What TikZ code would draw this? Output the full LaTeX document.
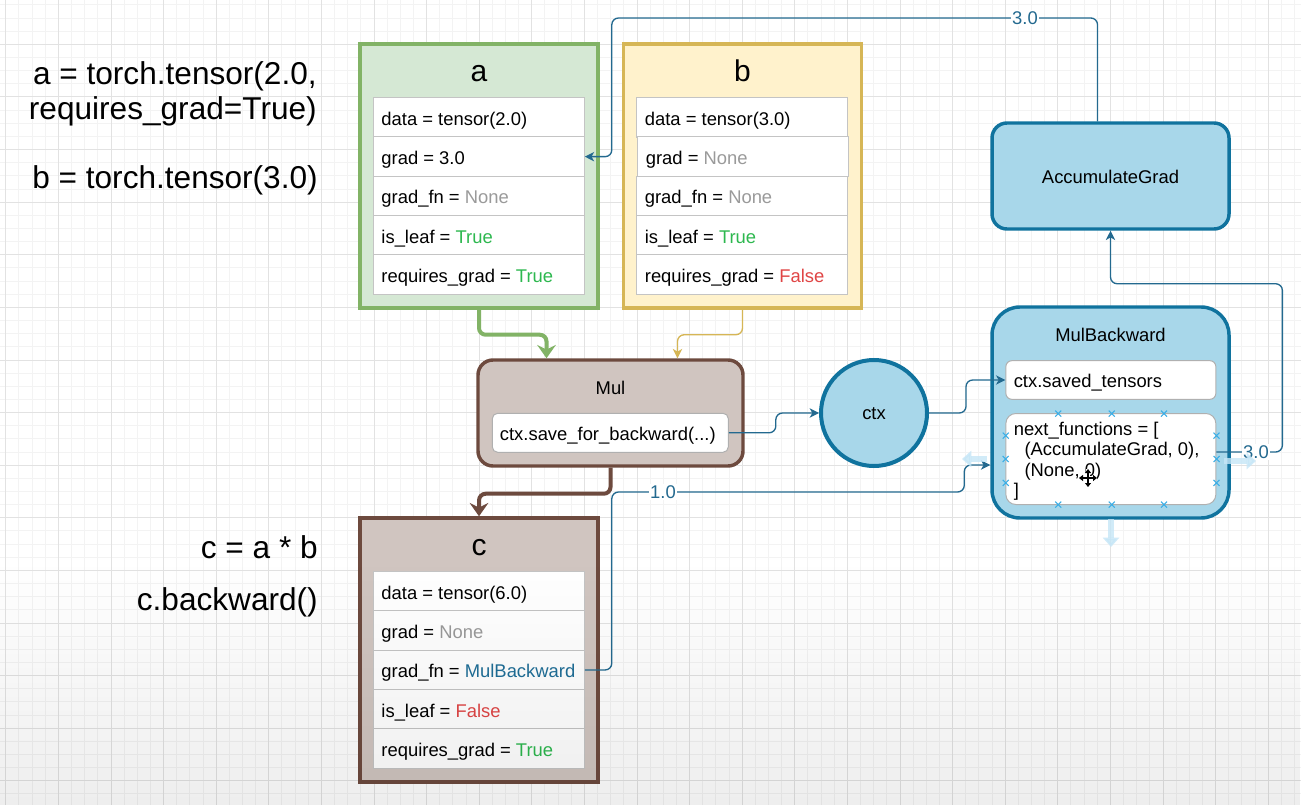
\documentclass[tikz,border=0pt]{standalone}
\usepackage{fontspec}
\setmainfont{Liberation Sans}
\usetikzlibrary{arrows.meta,calc,fadings}

\definecolor{gridminor}{HTML}{F3F3F3}
\definecolor{gridmajor}{HTML}{E2E2E2}
\definecolor{gfill}{HTML}{D5E8D4}
\definecolor{gline}{HTML}{82B366}
\definecolor{yfill}{HTML}{FFF2CC}
\definecolor{yline}{HTML}{D6B656}
\definecolor{bfill}{HTML}{D0C5C0}
\definecolor{bline}{HTML}{6D4A3E}
\definecolor{cfill}{HTML}{A8D7EA}
\definecolor{cline}{HTML}{10739E}
\definecolor{edgeblue}{HTML}{23698F}
\definecolor{rowline}{HTML}{C4C4C4}
\definecolor{txtgreen}{HTML}{2DB84F}
\definecolor{txtred}{HTML}{E04545}
\definecolor{txtgray}{HTML}{9A9A9A}
\definecolor{txtblue}{HTML}{1F6E97}
\definecolor{hover}{HTML}{C6E6F7}
\definecolor{marker}{HTML}{3AAEE6}

\newcommand\gnone[1]{\textcolor{txtgray}{#1}}
\newcommand\gtrue[1]{\textcolor{txtgreen}{#1}}
\newcommand\rfalse[1]{\textcolor{txtred}{#1}}

\tikzset{
  lbl/.style={font=\fontsize{13.8pt}{16pt}\selectfont},
  varbox/.style={rectangle, draw, line width=2.6pt, minimum width=178.5pt, minimum height=198pt, inner sep=0pt},
  rowbox/.style={rectangle, draw=rowline, fill=white, line width=0.75pt, minimum width=158.25pt, minimum height=29.5pt, inner sep=0pt},
  boxtitle/.style={font=\fontsize{22.5pt}{26pt}\selectfont, inner sep=0pt, anchor=base},
  code/.style={font=\fontsize{23.7pt}{26.25pt}\selectfont, anchor=base east, inner sep=0pt},
  opbox/.style={rectangle, rounded corners=11.25pt, line width=2.6pt, inner sep=0pt},
  inbox/.style={rectangle, rounded corners=4pt, draw=rowline!90!black, fill=white, line width=0.75pt, inner sep=0pt},
  txt/.style={lbl, inner sep=0pt, anchor=base},
  gedge/.style={draw=gline, line width=3pt, rounded corners=5pt, -{Stealth[length=10pt,width=14pt,inset=3.5pt]}},
  bredge/.style={draw=bline, line width=3pt, rounded corners=5pt, -{Stealth[length=10pt,width=14pt,inset=3.5pt]}},
  yedge/.style={draw=yline, line width=1pt, rounded corners=5pt, -{Stealth[length=7pt,width=7pt,inset=2pt]}},
  bedge/.style={draw=edgeblue, line width=1pt, rounded corners=5pt, -{Stealth[length=7pt,width=7pt,inset=2pt]}},
  elabel/.style={fill=white, text=edgeblue, inner sep=1pt, lbl},
  hoverarrow/.style={draw=hover, line width=4.5pt, -{Triangle[length=7pt,width=12pt]}, opacity=0.8},
}

\newcommand\selmark[2]{\draw[marker, line width=0.8pt] ($(#1,#2)+(-3,-3)$) -- ($(#1,#2)+(3,3)$) ($(#1,#2)+(-3,3)$) -- ($(#1,#2)+(3,-3)$);}
\newcommand\vrow[4]{\node[rowbox] (#1) at (#2,#3) {};
  \node[txt, anchor=base west] (#1t) at ($(#1.west)+(8.4,7.8)$) {#4};}

\begin{document}
\begin{tikzpicture}[x=0.75pt, y=-0.75pt]
\useasboundingbox (0,0) rectangle (1301,805);
\fill[white] (0,0) rectangle (1301,805);

% grid
\foreach \i in {0,...,98} \draw[gridminor, line width=0.6pt] ({5.7+13.15*\i},0) -- ({5.7+13.15*\i},805);
\foreach \j in {0,...,61} \draw[gridminor, line width=0.6pt] (0,{4.85+13.15*\j}) -- (1301,{4.85+13.15*\j});
\foreach \i in {0,...,24} \draw[gridmajor, line width=0.6pt] ({5.7+52.6*\i},0) -- ({5.7+52.6*\i},805);
\foreach \j in {0,...,15} \draw[gridmajor, line width=0.6pt] (0,{-8.3+52.6*\j}) -- (1301,{-8.3+52.6*\j});

% code on the left
\node[code] (codea) at (317,85) {a = torch.tensor(2.0,};
\node[code] (codea2) at (317,120) {requires\_grad=True)};
\node[code] (codeb) at (318,189) {b = torch.tensor(3.0)};
\node[code] (codec) at (318,558.5) {c = a * b};
\node[code] (coded) at (318,610.5) {c.backward()};

% variable a
\node[varbox, draw=gline, fill=gfill] (a) at (479,176) {};
\node[boxtitle] (ta) at (479,81.7) {a};
\vrow{a1}{478.8}{117.35}{data = tensor(2.0)}
\vrow{agrad}{478.8}{156.65}{grad = 3.0}
\vrow{a3}{478.8}{195.95}{grad\_fn = \gnone{None}}
\vrow{a4}{478.8}{235.25}{is\_leaf = \gtrue{True}}
\vrow{a5}{478.8}{274.55}{requires\_grad = \gtrue{True}}

% variable b
\node[varbox, draw=yline, fill=yfill] (b) at (742.5,176) {};
\node[boxtitle] (tb) at (742.5,81.7) {b};
\vrow{b1}{742.2}{117.35}{data = tensor(3.0)}
\vrow{b2}{743.2}{156.65}{grad = \gnone{None}}
\vrow{b3}{742.2}{195.95}{grad\_fn = \gnone{None}}
\vrow{b4}{742.2}{235.25}{is\_leaf = \gtrue{True}}
\vrow{b5}{742.2}{274.55}{requires\_grad = \rfalse{False}}

% variable c
\node[varbox, draw=bline, fill=bfill] (c) at (479,650) {};
\node[boxtitle] (tc) at (479,555) {c};
\vrow{c1}{478.8}{591.35}{data = tensor(6.0)}
\vrow{c2}{478.8}{630.65}{grad = \gnone{None}}
\vrow{cfn}{478.8}{669.95}{grad\_fn = \textcolor{txtblue}{MulBackward}}
\vrow{c4}{478.8}{709.25}{is\_leaf = \rfalse{False}}
\vrow{c5}{478.8}{748.55}{requires\_grad = \gtrue{True}}

% Mul
\node[opbox, draw=bline, fill=bfill, minimum width=198.75pt, minimum height=79.5pt] (mul) at (610.5,413) {};
\node[txt] (tmul) at (610.5,394.3) {Mul};
\node[inbox, minimum width=177pt, minimum height=29.25pt] (save) at (610.3,432.8) {};
\node[txt] (tsave) at (607.8,440) {ctx.save\_for\_backward(...)};

% ctx
\node[circle, draw=cline, fill=cfill, line width=3pt, minimum size=79.5pt, inner sep=0pt] (ctx) at (874,413) {};
\node[txt] (tctx) at (874,419.5) {ctx};

% AccumulateGrad
\node[opbox, draw=cline, fill=cfill, minimum width=177.75pt, minimum height=79.5pt] (accum) at (1110.5,176) {};
\node[txt] (taccum) at (1110.5,183.5) {AccumulateGrad};

% MulBackward
\node[opbox, rounded corners=21pt, draw=cline, fill=cfill, minimum width=177.75pt, minimum height=158.25pt] (mulbw) at (1110.5,412.5) {};
\node[txt] (tmulbw) at (1110.5,341.5) {MulBackward};
\node[inbox, rounded corners=4.5pt, minimum width=157.5pt, minimum height=29pt] (saved) at (1110.85,380) {};
\node[txt, anchor=base west] (tsaved) at (1013.5,387.4) {ctx.saved\_tensors};
\node[inbox, rounded corners=7.5pt, minimum width=157.5pt, minimum height=68.25pt] (nf) at (1110.85,459) {};
\node[txt, anchor=base west] (nf1) at (1013.5,435.6) {next\_functions = [};
\node[txt, anchor=base west] (nf2) at (1024.3,455.8) {(AccumulateGrad, 0),};
\node[txt, anchor=base west] (nf3) at (1024.3,476) {(None, 0)};
\node[txt, anchor=base west] (nf4) at (1013.5,496.2) {]};

% connectors
\draw[gedge] (a.south) -- ++(0,25) -| ($(mul.north)+(-64,0)$);
\draw[yedge] (b.south) -- ++(0,25) -| ($(mul.north)+(67,0)$);
\draw[bredge] (mul.south) -- ++(0,26) -| (c.north);
\draw[bedge] (save.east) -- ++(47,0) |- (ctx.west);
\draw[bedge] (ctx.east) -- ++(37,0) |- (saved.west);
\draw[bedge] (cfn.east) -- ++(27,0) |- ($(mulbw.west)+(-26,79.5)$) |- ($(mulbw.west)+(0,52.5)$);
\draw[bedge] ($(nf.east)+(0,-7)$) -- ++(66,0) |- ($(accum.south)+(0,53)$) -- (accum.south);
\draw[bedge] ($(accum.north)+(-13,0)$) |- ($(agrad.east)+(27,-138.65)$) |- (agrad.east);

\node[elabel] (l1) at (663,492) {1.0};
\node[elabel] (l2) at (1025,18) {3.0};
\node[elabel] (l3) at (1256,452) {3.0};

% selection handles on next_functions
\foreach \xx in {1058.3,1111.7,1164} {\selmark{\xx}{413.6} \selmark{\xx}{504.6}}
\foreach \yy in {435.7,459,482.9} {\selmark{1005.7}{\yy} \selmark{1216.5}{\yy}}
\draw[hoverarrow] (987,459) -- (962,459);
\draw[hoverarrow] (1224,461) -- (1256,461);
\draw[hoverarrow] (1111,519) -- (1111,547);

% move cursor
\draw[white, line width=3pt] (1079,478) -- (1097,478) (1088,469) -- (1088,487);
\draw[black, line width=1pt, {Triangle[length=3pt,width=4.5pt]}-{Triangle[length=3pt,width=4.5pt]}] (1079,478) -- (1097,478);
\draw[black, line width=1pt, {Triangle[length=3pt,width=4.5pt]}-{Triangle[length=3pt,width=4.5pt]}] (1088,469) -- (1088,487);

% bottom shade
\fill[black, opacity=0.09, path fading=north] (0,560) rectangle (1301,890);
\end{tikzpicture}
\end{document}
